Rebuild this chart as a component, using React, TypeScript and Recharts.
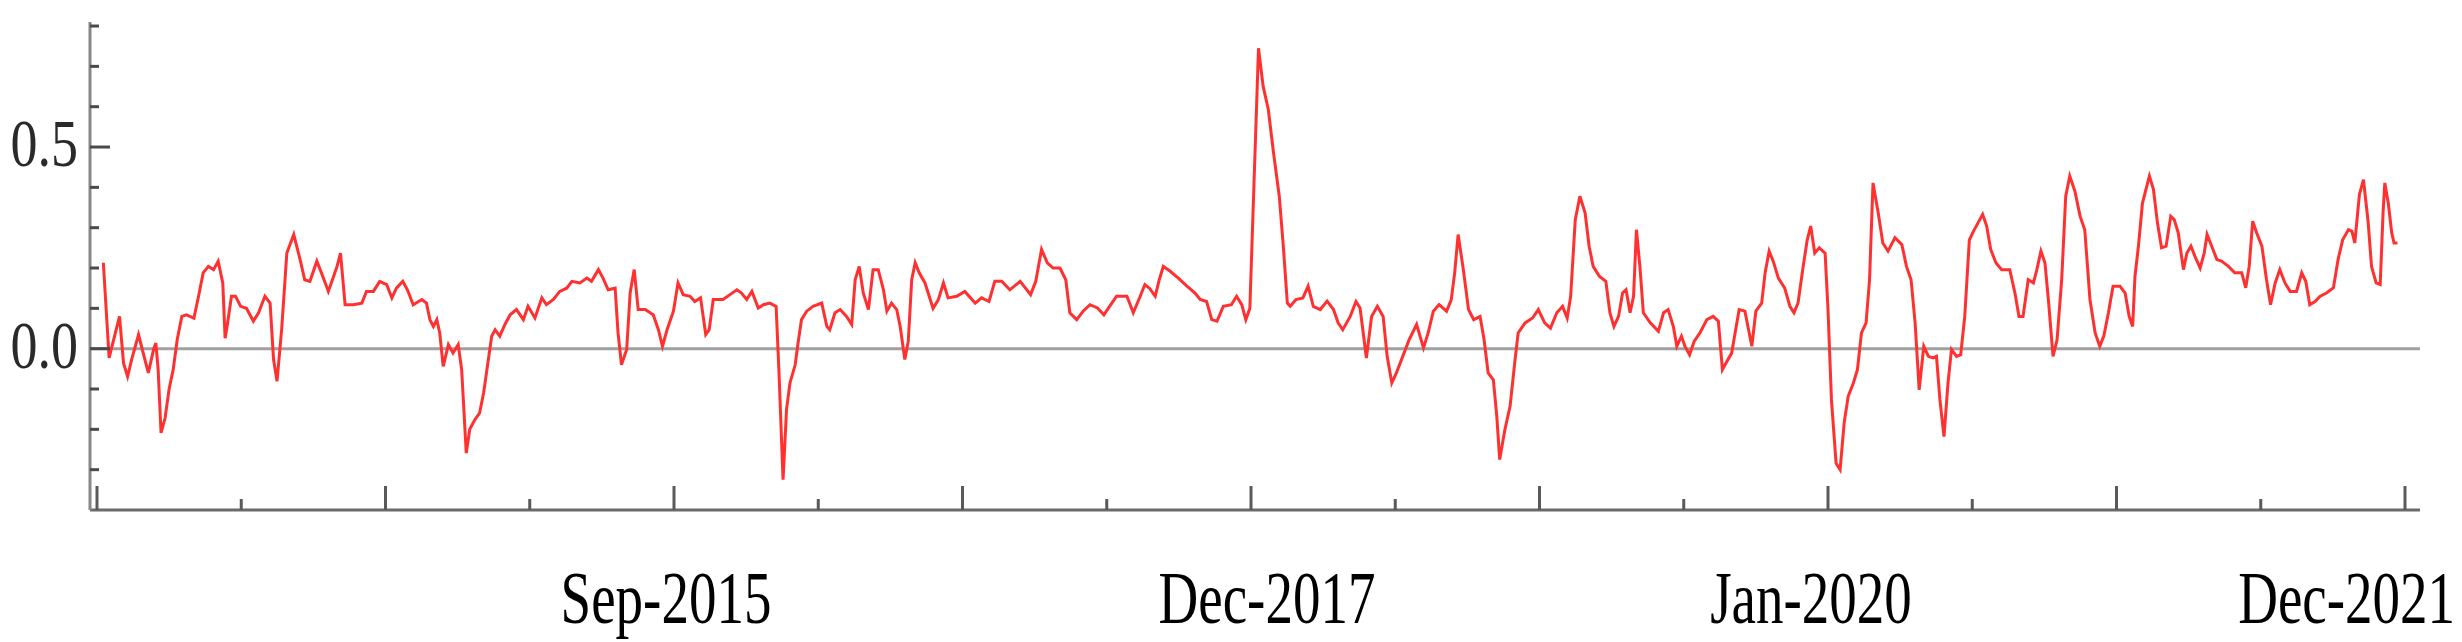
import React from 'react';
import { LineChart, Line, XAxis, YAxis, ReferenceLine } from 'recharts';

// weekly observation index and spread value
const weeks = [
  1.1, 2.1, 3.9, 4.6, 5.3, 6.0, 7.2, 8.3, 8.9, 9.8, 10.2, 10.6, 11.1, 11.8, 12.5, 13.2, 13.9, 14.7, 15.5, 16.8,
  17.6, 18.4, 19.3, 20.2, 21.0, 21.8, 22.2, 22.6, 23.3, 24.0, 24.9, 25.9, 27.1, 28.0, 29.1, 30.0, 30.6, 31.2, 32.0, 32.9,
  34.1, 35.2, 36.0, 36.9, 38.1, 38.9, 40.1, 41.0, 41.6, 42.2, 43.0, 44.4, 45.9, 46.7, 47.9, 49.0, 50.2, 51.1, 51.9, 53.0,
  53.8, 54.8, 56.3, 57.1, 57.7, 58.3, 58.9, 59.4, 60.0, 60.9, 61.7, 62.6, 63.2, 64.0, 64.6, 65.5, 66.3, 67.0, 67.5, 68.4,
  69.0, 69.8, 70.7, 71.6, 72.7, 73.9, 74.7, 75.9, 77.1, 77.9, 79.1, 80.2, 81.4, 82.3, 83.7, 84.9, 85.7, 86.9, 87.7, 88.6,
  89.8, 90.3, 90.9, 91.8, 92.4, 93.1, 93.8, 95.0, 96.4, 97.3, 98.0, 98.8, 99.9, 100.7, 101.6, 102.8, 103.6, 104.6, 105.5, 106.1,
  106.8, 108.5, 109.7, 110.9, 111.7, 112.6, 113.5, 114.6, 115.5, 116.6, 117.7, 118.2, 118.9, 119.5, 120.1, 121.0, 121.5, 122.1, 123.0, 124.1,
  125.6, 126.5, 127.0, 127.9, 128.8, 129.9, 130.8, 131.4, 132.1, 132.8, 133.7, 134.5, 135.4, 136.3, 136.9, 137.7, 138.6, 139.2, 140.0, 140.6,
  141.2, 141.8, 142.5, 143.5, 144.9, 145.8, 146.7, 147.5, 149.0, 150.4, 152.2, 153.3, 154.6, 155.6, 156.8, 158.2, 160.0, 161.8, 162.7, 163.7,
  164.7, 165.7, 166.9, 167.9, 168.6, 169.8, 170.9, 172.1, 173.4, 174.5, 175.7, 176.7, 178.5, 179.6, 180.8, 181.6, 182.4, 183.4, 184.1, 184.8,
  186.0, 187.4, 188.9, 190.3, 191.2, 192.3, 193.2, 194.1, 195.2, 196.6, 197.5, 198.4, 199.1, 199.8, 201.3, 202.1, 203.0, 203.9, 204.9, 205.6,
  206.3, 206.8, 207.8, 209.0, 209.9, 210.8, 212.0, 213.2, 214.3, 215.1, 215.9, 217.2, 218.2, 218.9, 220.0, 220.9, 221.9, 222.9, 223.6, 224.4,
  225.2, 226.3, 227.4, 228.7, 229.9, 230.7, 231.6, 232.6, 233.9, 234.7, 235.3, 235.9, 236.8, 237.7, 238.6, 239.7, 240.4, 241.1, 242.0, 242.6,
  243.1, 244.0, 244.9, 245.7, 246.3, 247.5, 248.8, 249.8, 250.9, 251.9, 253.0, 254.0, 254.8, 255.4, 256.2, 257.0, 257.9, 258.6, 259.3, 260.4,
  261.5, 262.2, 262.9, 263.7, 264.4, 265.0, 265.7, 266.3, 266.8, 267.4, 268.0, 269.2, 270.6, 271.5, 272.3, 273.2, 273.8, 274.6, 275.2, 276.0,
  276.8, 277.8, 279.0, 280.1, 281.0, 281.7, 282.5, 283.3, 283.9, 284.6, 285.6, 286.8, 287.5, 288.5, 289.1, 289.8, 290.5, 291.4, 292.5, 293.4,
  294.1, 294.8, 295.7, 296.4, 297.0, 297.7, 298.5, 299.5, 300.0, 300.6, 301.4, 302.1, 302.8, 303.5, 304.4, 305.1, 305.8, 306.6, 307.2, 307.8,
  308.7, 309.5, 310.4, 311.6, 312.8, 313.6, 314.4, 315.1, 315.8, 316.6, 317.4, 318.2, 318.8, 319.4, 320.1, 320.8, 321.4, 322.3, 323.0, 323.7,
  324.5, 325.2, 326.0, 326.8, 327.5, 328.2, 329.1, 330.1, 331.5, 332.4, 333.1, 333.8, 334.7, 335.6, 336.2, 336.9, 337.6, 338.2, 339.0, 339.7,
  340.5, 341.2, 341.9, 342.8, 343.7, 344.5, 345.4, 346.3, 347.1, 347.8, 348.6, 349.4, 350.6, 351.5, 352.2, 352.8, 353.2, 353.8, 354.5, 355.7,
  356.4, 357.1, 357.8, 358.6, 359.4, 360.0, 360.7, 361.6, 362.2, 362.9, 363.6, 364.5, 365.2, 365.7, 366.5, 367.4, 368.2, 369.4, 370.5, 371.7,
  372.4, 373.0, 373.6, 374.3, 375.2, 376.0, 376.7, 377.5, 378.3, 379.2, 380.1, 381.2, 382.1, 382.8, 383.5, 384.4, 385.3, 386.4, 387.6, 388.4,
  389.2, 390.2, 390.8, 391.3, 392.1, 392.8, 393.6, 394.2, 395.0, 395.7, 396.2, 396.5, 397.1, 397.7, 398.1, 398.7,
];

const spread = [
  0.213, -0.023, 0.08, -0.036, -0.069, -0.027, 0.035, -0.027, -0.06, -0.002, 0.014, -0.052, -0.209, -0.172, -0.1, -0.052, 0.022, 0.08, 0.084, 0.076,
  0.13, 0.188, 0.204, 0.196, 0.217, 0.163, 0.026, 0.06, 0.13, 0.13, 0.105, 0.1, 0.068, 0.089, 0.13, 0.113, -0.027, -0.081, 0.047, 0.237,
  0.283, 0.221, 0.171, 0.167, 0.217, 0.188, 0.142, 0.179, 0.204, 0.237, 0.109, 0.109, 0.113, 0.142, 0.142, 0.167, 0.159, 0.126, 0.15, 0.167,
  0.146, 0.109, 0.122, 0.113, 0.072, 0.055, 0.072, 0.039, -0.044, 0.01, -0.011, 0.01, -0.052, -0.259, -0.2, -0.176, -0.16, -0.11, -0.06, 0.031,
  0.047, 0.031, 0.06, 0.084, 0.097, 0.072, 0.105, 0.076, 0.126, 0.109, 0.122, 0.142, 0.15, 0.167, 0.163, 0.175, 0.167, 0.196, 0.175, 0.146,
  0.15, 0.039, -0.04, -0.002, 0.138, 0.196, 0.097, 0.097, 0.084, 0.047, 0.006, 0.047, 0.093, 0.163, 0.134, 0.13, 0.117, 0.126, 0.035, 0.047,
  0.122, 0.122, 0.134, 0.146, 0.138, 0.122, 0.142, 0.101, 0.109, 0.113, 0.105, -0.06, -0.325, -0.151, -0.085, -0.04, 0.014, 0.072, 0.093, 0.105,
  0.113, 0.055, 0.047, 0.089, 0.097, 0.08, 0.06, 0.171, 0.204, 0.138, 0.097, 0.196, 0.196, 0.146, 0.093, 0.113, 0.097, 0.055, -0.027, 0.018,
  0.171, 0.213, 0.188, 0.163, 0.1, 0.121, 0.163, 0.126, 0.13, 0.142, 0.113, 0.126, 0.117, 0.167, 0.167, 0.146, 0.167, 0.134, 0.167, 0.246,
  0.213, 0.2, 0.2, 0.171, 0.089, 0.072, 0.093, 0.109, 0.101, 0.084, 0.109, 0.13, 0.13, 0.089, 0.13, 0.159, 0.15, 0.13, 0.171, 0.204,
  0.192, 0.175, 0.155, 0.138, 0.122, 0.117, 0.072, 0.068, 0.105, 0.109, 0.13, 0.109, 0.072, 0.1, 0.745, 0.651, 0.593, 0.486, 0.378, 0.254,
  0.113, 0.105, 0.122, 0.126, 0.155, 0.105, 0.097, 0.118, 0.097, 0.064, 0.047, 0.08, 0.117, 0.101, -0.023, 0.08, 0.105, 0.08, -0.019, -0.085,
  -0.06, -0.019, 0.022, 0.06, 0.002, 0.039, 0.093, 0.109, 0.093, 0.121, 0.188, 0.283, 0.196, 0.097, 0.072, 0.08, 0.022, -0.06, -0.077, -0.168,
  -0.275, -0.201, -0.143, -0.036, 0.039, 0.064, 0.076, 0.097, 0.064, 0.051, 0.089, 0.105, 0.076, 0.13, 0.32, 0.378, 0.337, 0.254, 0.204, 0.179,
  0.167, 0.089, 0.055, 0.08, 0.138, 0.146, 0.089, 0.13, 0.295, 0.204, 0.089, 0.064, 0.043, 0.089, 0.097, 0.055, 0.006, 0.031, 0.006, -0.015,
  0.018, 0.039, 0.072, 0.08, 0.068, -0.052, -0.031, -0.011, 0.039, 0.097, 0.093, 0.006, 0.093, 0.113, 0.188, 0.242, 0.217, 0.175, 0.15, 0.105,
  0.089, 0.113, 0.204, 0.27, 0.304, 0.237, 0.25, 0.237, 0.097, -0.127, -0.284, -0.3, -0.184, -0.118, -0.085, -0.052, 0.039, 0.064, 0.171, 0.411,
  0.337, 0.262, 0.242, 0.275, 0.258, 0.204, 0.171, 0.064, -0.102, 0.006, -0.019, -0.023, -0.019, -0.127, -0.218, -0.085, -0.002, -0.019, -0.015, 0.08,
  0.27, 0.291, 0.312, 0.333, 0.304, 0.246, 0.213, 0.196, 0.196, 0.138, 0.08, 0.08, 0.171, 0.163, 0.196, 0.242, 0.213, 0.121, -0.019, 0.022,
  0.171, 0.378, 0.428, 0.39, 0.328, 0.295, 0.122, 0.039, 0.006, 0.031, 0.089, 0.155, 0.155, 0.138, 0.08, 0.055, 0.179, 0.254, 0.361, 0.428,
  0.395, 0.312, 0.25, 0.254, 0.328, 0.32, 0.287, 0.196, 0.237, 0.254, 0.229, 0.2, 0.237, 0.283, 0.254, 0.221, 0.217, 0.204, 0.188, 0.188,
  0.151, 0.204, 0.316, 0.287, 0.254, 0.171, 0.109, 0.163, 0.196, 0.163, 0.142, 0.142, 0.188, 0.167, 0.109, 0.117, 0.13, 0.138, 0.151, 0.221,
  0.27, 0.295, 0.291, 0.262, 0.382, 0.419, 0.316, 0.204, 0.163, 0.159, 0.337, 0.411, 0.361, 0.287, 0.262, 0.262,
];

const xTicks = [0, 25, 50, 75, 100, 125, 150, 175, 200, 225, 250, 275, 300, 325, 350, 375, 400];
const xLabels: Record<number, string> = { 100: 'Sep-2015', 200: 'Dec-2017', 300: 'Jan-2020', 400: 'Dec-2021' };
const yTicks = [-0.3, -0.2, -0.1, 0, 0.1, 0.2, 0.3, 0.4, 0.5, 0.6, 0.7, 0.8];
const yLabels: Record<string, string> = { '0.0': '0.0', '0.5': '0.5' };

// small nudges so the date labels sit where the original put them
const labelNudge: Record<number, number> = { 100: -8, 200: 16, 300: -17, 400: 50 };

const chartData = weeks.map((w, i) => ({ week: w, spread: spread[i] }));

const serif = "'Liberation Serif', 'Times New Roman', serif";

const XTick = (props: any) => {
  const { x, y, payload } = props;
  const v = payload.value;
  const major = v % 50 === 0;
  const label = xLabels[v];
  const last = v === 400;
  return (
    <g>
      <line x1={x} x2={x} y1={y} y2={y - (major ? 24 : 11)} stroke="#5a5a5a" strokeWidth={3} />
      {label && (
        <text
          transform={`translate(${x + (labelNudge[v] || 0)}, ${y + 113}) scale(1, 1.33)`}
          textAnchor={last ? 'end' : 'middle'}
          fontFamily={serif}
          fontSize={55}
          fill="#000"
        >
          {label}
        </text>
      )}
    </g>
  );
};

const YTick = (props: any) => {
  const { x, y, payload } = props;
  const key = Number(payload.value).toFixed(1);
  const label = yLabels[key];
  const major = !!label;
  return (
    <g>
      <line x1={x} x2={x + (major ? 20 : 9)} y1={y} y2={y} stroke="#4a4a4a" strokeWidth={3} />
      {label && (
        <text
          transform={`translate(${x - 12}, ${y + 19}) scale(1, 1.25)`}
          textAnchor="end"
          fontFamily={serif}
          fontSize={54}
          fill="#2a2a2a"
        >
          {label}
        </text>
      )}
    </g>
  );
};

const App: React.FC = () => {
  return (
    <div style={{ position: 'absolute', left: 0, top: 0, background: '#fff' }}>
      <LineChart width={2462} height={642} data={chartData} margin={{ top: 22, right: 42, left: 0, bottom: 0 }}>
        <XAxis
          dataKey="week"
          type="number"
          domain={[0, 400]}
          ticks={xTicks}
          interval={0}
          padding={{ left: 7, right: 15 }}
          height={132}
          tickSize={0}
          tickMargin={0}
          tickLine={false}
          axisLine={{ stroke: '#6b6b6b', strokeWidth: 3 }}
          tick={XTick}
        />
        <YAxis
          type="number"
          domain={[-0.4, 0.81]}
          ticks={yTicks}
          interval={0}
          width={90}
          tickSize={0}
          tickMargin={0}
          tickLine={false}
          allowDataOverflow
          axisLine={{ stroke: '#888888', strokeWidth: 3 }}
          tick={YTick}
        />
        <ReferenceLine y={0} stroke="#a0a0a0" strokeWidth={3} />
        <Line
          type="linear"
          dataKey="spread"
          stroke="#ff3030"
          strokeWidth={3}
          dot={false}
          activeDot={false}
          isAnimationActive={false}
        />
      </LineChart>
    </div>
  );
};

export default App;
